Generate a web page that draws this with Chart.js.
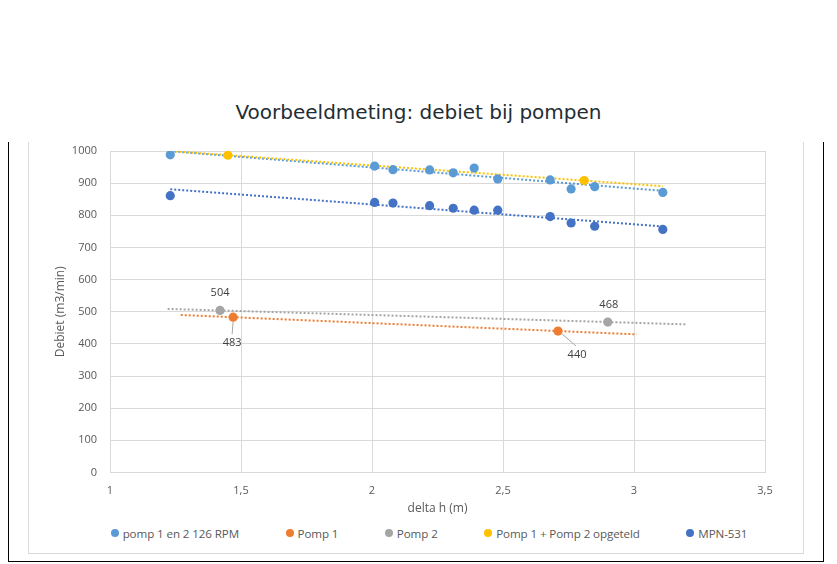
<!DOCTYPE html>
<html lang="nl">
<head>
<meta charset="utf-8">
<title>Voorbeeldmeting: debiet bij pompen</title>
<script src="https://cdn.jsdelivr.net/npm/chart.js@4.4.0/dist/chart.umd.min.js"></script>
<style>
  html, body { margin: 0; padding: 0; background: #fff; }
  body { width: 837px; height: 564px; position: relative; overflow: hidden; font-family: "Open Sans", sans-serif; }
  #titel { position: absolute; left: 0; top: 100px; width: 837px; text-align: center;
           font: 20px/24px "DejaVu Sans", sans-serif; color: #1f2e35; }
  #kader { position: absolute; left: 8px; top: 142px; width: 814px; height: 419px;
           border: 1px solid #000; border-top: none; }
  #grafiek-vak { position: absolute; left: 28px; top: 142px; width: 774px; height: 411px;
                 border: 1px solid #d9d9d9; border-top: none; }
  #grafiek { position: absolute; left: 29px; top: 142px; }
  #legenda { position: absolute; left: 42px; top: 525px; width: 774px; height: 16px;
             display: flex; justify-content: center; align-items: center; gap: 46.5px;
             font-size: 11.6px; color: #595959; white-space: nowrap; letter-spacing: -0.1px; }
  #legenda .item { display: flex; align-items: center; }
  #legenda .stip { width: 8px; height: 8px; border-radius: 50%; margin-right: 4px; }
</style>
</head>
<body>
<div id="titel">Voorbeeldmeting: debiet bij pompen</div>
<div id="kader"></div>
<div id="grafiek-vak"></div>
<canvas id="grafiek" width="774" height="376"></canvas>
<div id="legenda"></div>

<script>
// meetwaarden
const deltaH = [1.23, 2.01, 2.08, 2.22, 2.31, 2.39, 2.48, 2.68, 2.76, 2.85, 3.11];
const rpm126 = [988, 953, 942, 941, 932, 947, 913, 910, 882, 889, 871];
const mpn531 = [861, 840, 838, 830, 822, 816, 816, 796, 776, 766, 756];
const pomp1H = [1.47, 2.71];
const pomp1Q = [483, 440];
const pomp2H = [1.42, 2.9];
const pomp2Q = [504, 468];
const somH = [1.45, 2.81];
const somQ = [987, 908];

const xTicks = [1, 1.5, 2, 2.5, 3, 3.5];
const yTicks = [0, 100, 200, 300, 400, 500, 600, 700, 800, 900, 1000];

const reeksen = [
  { label: "pomp 1 en 2 126 RPM", x: deltaH, y: rpm126, kleur: "#5b9bd5", terug: 0, vooruit: 0 },
  { label: "Pomp 1", x: pomp1H, y: pomp1Q, kleur: "#ed7d31", terug: 0.2, vooruit: 0.3 },
  { label: "Pomp 2", x: pomp2H, y: pomp2Q, kleur: "#a5a5a5", terug: 0.2, vooruit: 0.3 },
  { label: "Pomp 1 + Pomp 2 opgeteld", x: somH, y: somQ, kleur: "#ffc000", terug: 0.2, vooruit: 0.3 },
  { label: "MPN-531", x: deltaH, y: mpn531, kleur: "#4472c4", terug: 0, vooruit: 0 },
];

// labels bij enkele punten: reeks, punt, verschuiving en eventueel leader-lijn
const puntLabels = [
  { ds: 2, i: 0, dx: 0, dy: -18 },
  { ds: 2, i: 1, dx: 1, dy: -17 },
  { ds: 1, i: 0, dx: -1, dy: 26, lijn: [0, 4, -1, 17] },
  { ds: 1, i: 1, dx: 19, dy: 24, lijn: [3, 2, 18, 15] },
];

const tekstKleur = "#595959";
const rasterKleur = "#d9d9d9";

// lineaire trendlijn (kleinste kwadraten), zoals Excel
function trendlijn(xs, ys, terug, vooruit) {
  const n = xs.length;
  const mx = xs.reduce((a, b) => a + b, 0) / n;
  const my = ys.reduce((a, b) => a + b, 0) / n;
  let sxy = 0, sxx = 0;
  for (let k = 0; k < n; k++) {
    sxy += (xs[k] - mx) * (ys[k] - my);
    sxx += (xs[k] - mx) * (xs[k] - mx);
  }
  const b = sxy / sxx;
  const a = my - b * mx;
  const x0 = Math.min(...xs) - terug;
  const x1 = Math.max(...xs) + vooruit;
  return [{ x: x0, y: a + b * x0 }, { x: x1, y: a + b * x1 }];
}

const datasets = reeksen.map((r, k) => ({
  label: r.label,
  data: r.x.map((x, j) => ({ x, y: r.y[j] })),
  backgroundColor: r.kleur,
  borderColor: r.kleur,
  pointRadius: 4.6,
  pointBorderWidth: 0,
  showLine: false,
  order: 5 - k,
}));

reeksen.forEach((r, k) => {
  datasets.push({
    label: r.label + " trend",
    isTrend: true,
    data: trendlijn(r.x, r.y, r.terug, r.vooruit),
    borderColor: r.kleur,
    borderWidth: 2,
    borderDash: [2, 2],
    pointRadius: 0,
    showLine: true,
    fill: false,
    order: 20 - k,
  });
});

const labelPlugin = {
  id: "puntLabels",
  afterDatasetsDraw(chart) {
    const ctx = chart.ctx;
    ctx.save();
    ctx.font = '11px "Open Sans", sans-serif';
    ctx.fillStyle = "#404040";
    ctx.textAlign = "center";
    ctx.textBaseline = "middle";
    puntLabels.forEach((l) => {
      const pt = chart.getDatasetMeta(l.ds).data[l.i];
      const waarde = chart.data.datasets[l.ds].data[l.i].y;
      if (l.lijn) {
        ctx.strokeStyle = "#a6a6a6";
        ctx.lineWidth = 1;
        ctx.beginPath();
        ctx.moveTo(pt.x + l.lijn[0], pt.y + l.lijn[1]);
        ctx.lineTo(pt.x + l.lijn[2], pt.y + l.lijn[3]);
        ctx.stroke();
      }
      ctx.fillText(String(waarde), pt.x + l.dx, pt.y + l.dy);
    });
    ctx.restore();
  },
};

const fontAs = { family: '"Open Sans", sans-serif', size: 11 };
const fontTitel = { family: '"Open Sans", sans-serif', size: 12 };

const chart = new Chart(document.getElementById("grafiek"), {
  type: "scatter",
  data: { datasets },
  options: {
    responsive: false,
    animation: false,
    layout: { padding: { left: 18, top: 9, right: 38, bottom: 0 } },
    plugins: {
      legend: { display: false },
      tooltip: { enabled: false },
    },
    scales: {
      x: {
        type: "linear",
        min: 1,
        max: 3.5,
        afterBuildTicks: (s) => { s.ticks = xTicks.map((v) => ({ value: v })); },
        afterFit: (s) => { s.height = 45.5; },
        ticks: {
          color: tekstKleur,
          font: fontAs,
          padding: 12,
          callback: (v) => String(v).replace(".", ","),
        },
        grid: { color: rasterKleur, drawTicks: false },
        border: { color: rasterKleur },
        title: { display: true, text: "delta h (m)", color: tekstKleur, font: fontTitel, padding: { top: 0, bottom: 2 } },
      },
      y: {
        min: 0,
        max: 1000,
        afterBuildTicks: (s) => { s.ticks = yTicks.map((v) => ({ value: v })); },
        afterFit: (s) => { s.width = 63; },
        // onzichtbare tick-streepjes zorgen voor de afstand, zodat de bovenrand niet verschuift
        ticks: { color: tekstKleur, font: fontAs, padding: 0, callback: (v) => String(v) },
        grid: { color: rasterKleur, drawTicks: true, tickLength: 13, tickColor: "rgba(0,0,0,0)" },
        border: { color: rasterKleur },
        title: { display: true, text: "Debiet (m3/min)", color: tekstKleur, font: fontTitel, padding: { top: 6, bottom: 0 } },
      },
    },
  },
  plugins: [labelPlugin],
});

// legenda in HTML, alleen de meetreeksen
const legenda = document.getElementById("legenda");
chart.data.datasets.filter((d) => !d.isTrend).forEach((d) => {
  const item = document.createElement("div");
  item.className = "item";
  item.innerHTML = '<span class="stip" style="background:' + d.backgroundColor + '"></span><span>' + d.label + "</span>";
  legenda.appendChild(item);
});
</script>
</body>
</html>
